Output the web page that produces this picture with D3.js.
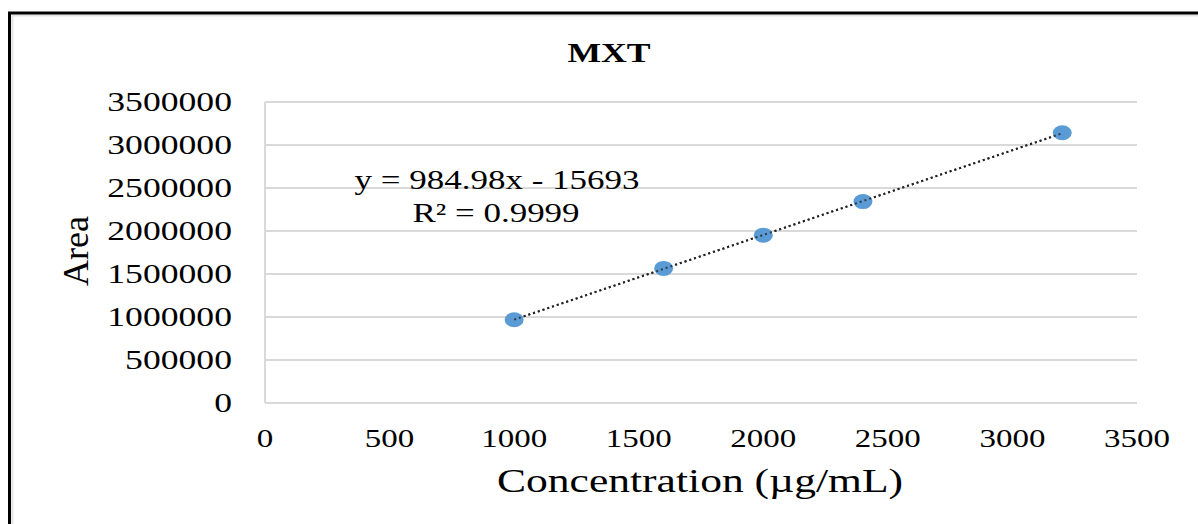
<!DOCTYPE html>
<html>
<head>
<meta charset="utf-8">
<script src="https://cdn.jsdelivr.net/npm/d3@7"></script>
<style>
  html, body { margin: 0; padding: 0; background: #fff; }
  svg { display: block; }
  text { font-family: "Liberation Serif", "Times New Roman", serif; fill: #000; }
</style>
</head>
<body>
<svg id="chart"></svg>
<script>
/* ─── Data ───────────────────────────────────────────────────────────────── */

const TITLE = 'MXT';
const X_LABEL = 'Concentration (µg/mL)';
const Y_LABEL = 'Area';

const concentrations = [1000, 1600, 2000, 2400, 3200];
const areas          = [968000, 1565000, 1952000, 2342000, 3142000];

// Linear trendline as reported on the chart
const trend = [984.98, -15693];          // slope, intercept
const trendText = ['y = 984.98x - 15693', 'R² = 0.9999'];

const xTicks = [0, 500, 1000, 1500, 2000, 2500, 3000, 3500];
const yTicks = [0, 500000, 1000000, 1500000, 2000000, 2500000, 3000000, 3500000];

/* ─── Layout ─────────────────────────────────────────────────────────────── */

const W = 1198, H = 524;
const plot = { left: 265, right: 1137, top: 102, bottom: 403 };
const STRETCH = 1.32;   // source picture is stretched horizontally

const svg = d3.select('#chart').attr('width', W).attr('height', H);

const x = d3.scaleLinear().domain([0, 3500]).range([plot.left, plot.right]);
const y = d3.scaleLinear().domain([0, 3500000]).range([plot.bottom, plot.top]);

// Helper: stretched text at (px, py)
function stext(px, py, str, size, anchor, weight) {
  return svg.append('text')
    .attr('transform', `translate(${px},${py}) scale(${STRETCH},1)`)
    .attr('text-anchor', anchor || 'middle')
    .attr('font-size', size)
    .attr('font-weight', weight || 'normal')
    .text(str);
}

/* ─── Frame ──────────────────────────────────────────────────────────────── */

svg.append('line').attr('x1', 12).attr('x2', W).attr('y1', 15.5).attr('y2', 15.5)
  .attr('stroke', '#e3e3e3').attr('stroke-width', 2);
svg.append('line').attr('x1', 12.5).attr('x2', 12.5).attr('y1', 15).attr('y2', H)
  .attr('stroke', '#e3e3e3').attr('stroke-width', 2);
svg.append('line').attr('x1', 8).attr('x2', W).attr('y1', 13).attr('y2', 13)
  .attr('stroke', '#000').attr('stroke-width', 3);
svg.append('line').attr('x1', 9.5).attr('x2', 9.5).attr('y1', 12).attr('y2', H)
  .attr('stroke', '#000').attr('stroke-width', 3);

/* ─── Grid & axes ────────────────────────────────────────────────────────── */

svg.append('g')
  .selectAll('line')
  .data(yTicks)
  .join('line')
  .attr('x1', plot.left).attr('x2', plot.right)
  .attr('y1', d => y(d)).attr('y2', d => y(d))
  .attr('stroke', '#d9d9d9').attr('stroke-width', 2);

svg.append('line')
  .attr('x1', plot.left).attr('x2', plot.left)
  .attr('y1', plot.top).attr('y2', plot.bottom)
  .attr('stroke', '#d9d9d9').attr('stroke-width', 2);

yTicks.forEach(t => stext(232, y(t) + 9, String(t), 27, 'end'));
xTicks.forEach(t => stext(x(t), 447, String(t), 25, 'middle'));

/* ─── Titles ─────────────────────────────────────────────────────────────── */

stext(609, 62, TITLE, 27, 'middle', 'bold');
stext(700, 492, X_LABEL, 33, 'middle');

svg.append('text')
  .attr('transform', 'translate(88,251) rotate(-90)')
  .attr('text-anchor', 'middle')
  .attr('font-size', 36)
  .text(Y_LABEL);

/* ─── Trendline ──────────────────────────────────────────────────────────── */

const xMin = d3.min(concentrations), xMax = d3.max(concentrations);
const trendLine = () => svg.append('line')
  .attr('x1', x(xMin)).attr('y1', y(trend[0] * xMin + trend[1]))
  .attr('x2', x(xMax)).attr('y2', y(trend[0] * xMax + trend[1]))
  .attr('stroke', '#222').attr('stroke-width', 2)
  .attr('stroke-dasharray', '2,3');

trendLine();

/* ─── Points ─────────────────────────────────────────────────────────────── */

svg.append('g')
  .selectAll('ellipse')
  .data(concentrations.map((c, i) => [c, areas[i]]))
  .join('ellipse')
  .attr('cx', d => x(d[0]))
  .attr('cy', d => y(d[1]))
  .attr('rx', 9.5).attr('ry', 7.5)
  .attr('fill', '#5b9bd5');

// trendline dots sit over the markers, as in the source
trendLine().attr('opacity', 0.8);

/* ─── Equation label ─────────────────────────────────────────────────────── */

stext(497, 189, trendText[0], 26.5, 'middle');
stext(496, 222, trendText[1], 26.5, 'middle');
</script>
</body>
</html>
